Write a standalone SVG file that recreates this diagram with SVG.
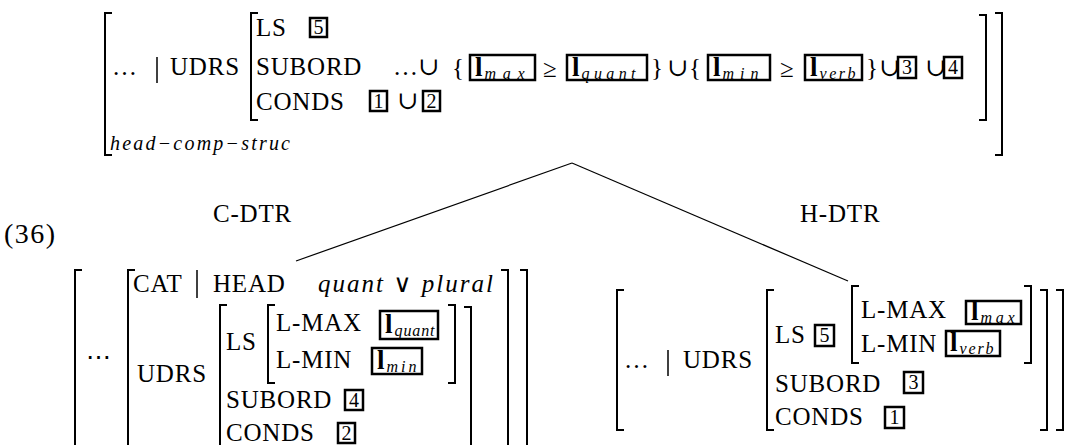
<svg xmlns="http://www.w3.org/2000/svg" width="1071" height="445" viewBox="0 0 1071 445">
<style>
text { font-family: 'Liberation Serif', 'DejaVu Serif', serif; fill: #000; }
.k { font-size: 25px; letter-spacing: 0.8px; }
.it { font-size: 25px; font-style: italic; letter-spacing: 2px; }
.sym { font-size: 25px; }
.n { font-size: 20px; text-anchor: middle; }
.l { font-size: 27px; font-weight: bold; }
.sub { font-size: 16px; font-style: italic; font-weight: normal; }
.hcs { font-size: 20px; font-style: italic; }
.lab { font-size: 25px; letter-spacing: 0.8px; }
.num { font-size: 28px; letter-spacing: 1.5px; }
.br { fill: none; stroke: #000; stroke-width: 2; }
.bar { fill: none; stroke: #000; stroke-width: 1.5; }
.bx { fill: none; stroke: #000; stroke-width: 2.5; }
.edge { fill: none; stroke: #000; stroke-width: 1.2; }
</style>

<g id="mother">
  <path class="br" d="M112 13H105V155H112"/>
  <text class="k" x="112" y="75">…</text>
  <line class="bar" x1="157" y1="57" x2="157" y2="83"/>
  <text class="k" x="170" y="75">UDRS</text>
  <path class="br" d="M258 13H251V120H258"/>
  <text class="k" x="256" y="36">LS</text>
  <rect class="bx" x="310" y="18" width="17" height="19"/>
  <text class="n" x="318.5" y="34">5</text>
  <text class="k" x="256" y="75">SUBORD</text>
  <text class="sym" x="393" y="75">…∪</text>
  <text class="sym" x="452" y="76">{</text>
  <rect class="bx" x="470" y="55" width="65" height="25"/>
  <text class="l" x="475" y="76">l<tspan class="sub" dx="2" dy="3" textLength="40">max</tspan></text>
  <text class="sym" x="543" y="77">≥</text>
  <rect class="bx" x="567" y="55" width="80" height="25"/>
  <text class="l" x="572" y="76">l<tspan class="sub" dx="2" dy="3" textLength="54">quant</tspan></text>
  <text class="sym" x="651" y="76">}</text>
  <text class="sym" x="667" y="76">∪</text>
  <text class="sym" x="689" y="76">{</text>
  <rect class="bx" x="708" y="55" width="62" height="25"/>
  <text class="l" x="713" y="76">l<tspan class="sub" dx="2" dy="3" textLength="36">min</tspan></text>
  <text class="sym" x="780" y="77">≥</text>
  <rect class="bx" x="805" y="55" width="57" height="25"/>
  <text class="l" x="810" y="76">l<tspan class="sub" dx="2" dy="3" textLength="36">verb</tspan></text>
  <text class="sym" x="866" y="76">}</text>
  <text class="sym" x="879" y="76">∪</text>
  <rect class="bx" x="898" y="57" width="18" height="21"/>
  <text class="n" x="907" y="74">3</text>
  <text class="sym" x="925" y="76">∪</text>
  <rect class="bx" x="944" y="57" width="18" height="21"/>
  <text class="n" x="953" y="74">4</text>
  <path class="br" d="M979 15H986V120H979"/>
  <path class="br" d="M995 13H1002V155H995"/>
  <text class="k" x="256" y="110">CONDS</text>
  <rect class="bx" x="370" y="91" width="17" height="20"/>
  <text class="n" x="378.5" y="108">1</text>
  <text class="sym" x="397" y="109">∪</text>
  <rect class="bx" x="423" y="91" width="17" height="20"/>
  <text class="n" x="431.5" y="108">2</text>
  <text class="hcs" x="110" y="150" textLength="180" lengthAdjust="spacing">head−comp−struc</text>
</g>

<g id="connectors">
  <line class="edge" x1="572" y1="163" x2="296" y2="261"/>
  <line class="edge" x1="572" y1="163" x2="848" y2="281"/>
  <text class="lab" x="213" y="222">C-DTR</text>
  <text class="lab" x="800" y="222">H-DTR</text>
</g>

<g id="example-number">
  <text class="num" x="4" y="243">(36)</text>
</g>

<g id="c-dtr">
  <path class="br" d="M82 270H75V450"/>
  <text class="sym" x="86" y="365">⋯</text>
  <path class="br" d="M135 270H128V450"/>
  <text class="k" x="133" y="292">CAT</text>
  <line class="bar" x1="197" y1="270" x2="197" y2="298"/>
  <text class="k" x="213" y="292">HEAD</text>
  <text class="it" x="318" y="292">quant ∨ plural</text>
  <path class="br" d="M501 270H508V450"/>
  <path class="br" d="M520 270H527V450"/>
  <text class="k" x="137" y="382">UDRS</text>
  <path class="br" d="M227 305H220V450"/>
  <text class="k" x="226" y="350">LS</text>
  <path class="br" d="M275 305H268V383H275"/>
  <text class="k" x="276" y="331">L-MAX</text>
  <rect class="bx" x="380" y="311" width="58" height="28"/>
  <text class="l" x="385" y="333">l<tspan class="sub" dx="2" dy="3" textLength="40">quant</tspan></text>
  <text class="k" x="276" y="368">L-MIN</text>
  <rect class="bx" x="372" y="348" width="50" height="26"/>
  <text class="l" x="377" y="369">l<tspan class="sub" dx="2" dy="3" textLength="30">min</tspan></text>
  <path class="br" d="M448 305H455V383H448"/>
  <path class="br" d="M464 307H471V450"/>
  <text class="k" x="226" y="408">SUBORD</text>
  <rect class="bx" x="345" y="390" width="18" height="20"/>
  <text class="n" x="354" y="407">4</text>
  <text class="k" x="226" y="441">CONDS</text>
  <rect class="bx" x="338" y="423" width="17" height="20"/>
  <text class="n" x="346.5" y="440">2</text>
</g>

<g id="h-dtr">
  <path class="br" d="M624 290H617V430H624"/>
  <text class="k" x="624" y="368">…</text>
  <line class="bar" x1="668" y1="350" x2="668" y2="376"/>
  <text class="k" x="683" y="368">UDRS</text>
  <path class="br" d="M774 290H767V430H774"/>
  <text class="k" x="775" y="343">LS</text>
  <rect class="bx" x="815" y="325" width="19" height="21"/>
  <text class="n" x="824.5" y="342">5</text>
  <path class="br" d="M859 286H852V363H859"/>
  <text class="k" x="861" y="318">L-MAX</text>
  <rect class="bx" x="966" y="301" width="55" height="23"/>
  <text class="l" x="971" y="320">l<tspan class="sub" dx="2" dy="3" textLength="34">max</tspan></text>
  <text class="k" x="861" y="352">L-MIN</text>
  <rect class="bx" x="946" y="331" width="54" height="25"/>
  <text class="l" x="950" y="351">l<tspan class="sub" dx="2" dy="3" textLength="34">verb</tspan></text>
  <path class="br" d="M1024 286H1031V363H1024"/>
  <text class="k" x="775" y="392">SUBORD</text>
  <rect class="bx" x="904" y="372" width="19" height="21"/>
  <text class="n" x="913.5" y="389">3</text>
  <text class="k" x="775" y="425">CONDS</text>
  <rect class="bx" x="885" y="407" width="19" height="21"/>
  <text class="n" x="894.5" y="424">1</text>
  <path class="br" d="M1040 290H1047V430H1040"/>
  <path class="br" d="M1056 290H1063V430H1056"/>
</g>
</svg>
